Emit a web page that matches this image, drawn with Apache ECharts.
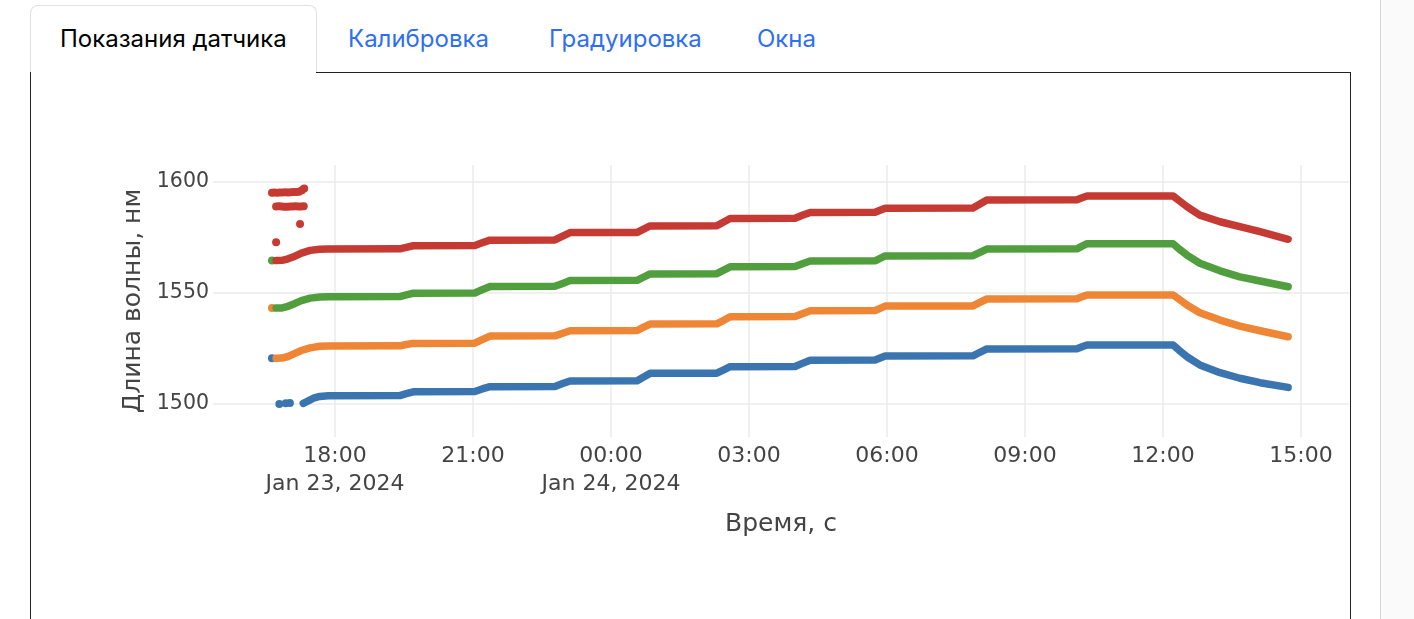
<!DOCTYPE html>
<html><head><meta charset="utf-8">
<script src="https://cdn.jsdelivr.net/npm/echarts@6/dist/echarts.min.js"></script>
<style>
html,body{margin:0;padding:0;width:1414px;height:619px;overflow:hidden;background:#fff;}
#scroll{position:absolute;left:1380px;top:0;width:34px;height:619px;background:#fafafa;border-left:1px solid #d6d6d6;}
#tab-active{position:absolute;left:30px;top:5px;width:287px;height:68px;border:1px solid #dee2e6;border-bottom:none;border-radius:8px 8px 0 0;background:#fff;box-sizing:border-box;}
.tab{position:absolute;top:22px;font-family:Inter,"Liberation Sans",sans-serif;font-size:24px;line-height:34px;white-space:nowrap;color:#2e6ff2;}
#line-top{position:absolute;left:316px;top:72px;width:1035px;height:1px;background:#222;}
#panel-left{position:absolute;left:30px;top:72px;width:1px;height:547px;background:#222;}
#panel-right{position:absolute;left:1350px;top:72px;width:1px;height:547px;background:#222;}
#chart{position:absolute;left:0;top:0;width:1414px;height:619px;}
</style>
</head><body>
<div id="scroll"></div>
<div id="tab-active"></div>
<div class="tab" style="left:60px;color:#000;">Показания датчика</div>
<div class="tab" style="left:348px;">Калибровка</div>
<div class="tab" style="left:549px;">Градуировка</div>
<div class="tab" style="left:757px;">Окна</div>
<div id="line-top"></div>
<div id="panel-left"></div>
<div id="panel-right"></div>
<div id="chart"></div>
<script>
// x values are hours since Jan 23, 2024 00:00
const tickHours = [18, 21, 24, 27, 30, 33, 36, 39];
const tickTimes = ['18:00', '21:00', '00:00', '03:00', '06:00', '09:00', '12:00', '15:00'];
const tickDates = ['Jan 23, 2024', '', 'Jan 24, 2024', '', '', '', '', ''];
const yTicks = [1500, 1550, 1600];

const blueLine = [
[17.31,1500.3],[17.42,1501.4],[17.53,1502.6],[17.67,1503.4],[17.85,1503.7],
[19.41,1503.8],[19.55,1504.7],[19.70,1505.5],
[21.04,1505.6],[21.20,1506.8],[21.37,1507.8],
[22.78,1507.9],[22.95,1509.2],[23.11,1510.4],
[24.57,1510.5],[24.71,1512.2],[24.85,1513.8],
[26.30,1513.9],[26.45,1515.4],[26.59,1516.8],
[28.00,1516.9],[28.16,1518.3],[28.33,1519.7],
[29.74,1519.8],[29.85,1520.7],[29.96,1521.6],
[31.87,1521.7],[32.02,1523.3],[32.17,1524.8],
[34.13,1524.9],[34.24,1525.8],[34.35,1526.6],
[36.22,1526.6],[36.35,1524.2],[36.52,1521.3],[36.80,1517.6],[37.24,1514.1],[37.67,1511.6],[38.11,1509.6],[38.72,1507.5]
];
const blueDots = [[16.63,1520.6],[16.79,1500.0],[16.93,1500.3],[17.02,1500.4]];

const orangeLine = [
[16.72,1520.6],[16.85,1520.7],[16.98,1521.4],[17.13,1522.8],[17.27,1524.1],[17.46,1525.3],[17.67,1526.0],[17.85,1526.1],
[19.41,1526.2],[19.55,1526.8],[19.70,1527.3],
[21.04,1527.4],[21.20,1529.0],[21.37,1530.6],
[22.78,1530.7],[22.95,1531.9],[23.11,1533.0],
[24.57,1533.1],[24.71,1534.6],[24.85,1536.0],
[26.30,1536.1],[26.45,1537.7],[26.59,1539.3],
[28.00,1539.4],[28.16,1540.7],[28.33,1542.0],
[29.74,1542.1],[29.85,1543.1],[29.96,1544.1],
[31.87,1544.2],[32.02,1545.8],[32.17,1547.3],
[34.13,1547.4],[34.24,1548.3],[34.35,1549.1],
[36.22,1549.1],[36.35,1547.2],[36.52,1544.6],[36.80,1541.1],[37.24,1537.8],[37.67,1535.1],[38.11,1533.0],[38.72,1530.3]
];
const orangeDots = [[16.63,1543.2]];

const greenLine = [
[16.72,1543.2],[16.85,1543.3],[16.98,1544.0],[17.13,1545.3],[17.27,1546.6],[17.46,1547.7],[17.67,1548.2],[17.85,1548.3],
[19.41,1548.4],[19.55,1549.2],[19.70,1549.9],
[21.04,1550.0],[21.20,1551.5],[21.37,1552.9],
[22.78,1553.0],[22.95,1554.3],[23.11,1555.6],
[24.57,1555.7],[24.71,1557.2],[24.85,1558.6],
[26.30,1558.7],[26.45,1560.3],[26.59,1561.8],
[28.00,1561.9],[28.16,1563.2],[28.33,1564.4],
[29.74,1564.5],[29.85,1565.6],[29.96,1566.7],
[31.87,1566.8],[32.02,1568.3],[32.17,1569.8],
[34.13,1569.9],[34.24,1571.1],[34.35,1572.2],
[36.22,1572.2],[36.35,1569.8],[36.52,1567.1],[36.80,1563.4],[37.24,1560.0],[37.67,1557.3],[38.11,1555.4],[38.72,1552.8]
];
const greenDots = [[16.63,1564.6]];

const redLine = [
[16.72,1564.6],[16.85,1564.7],[16.98,1565.4],[17.13,1566.6],[17.27,1568.0],[17.46,1569.2],[17.67,1569.7],[17.85,1569.8],
[19.41,1569.9],[19.55,1570.6],[19.70,1571.3],
[21.04,1571.4],[21.20,1572.6],[21.37,1573.8],
[22.78,1573.9],[22.95,1575.6],[23.11,1577.2],
[24.57,1577.3],[24.71,1578.8],[24.85,1580.2],
[26.30,1580.3],[26.45,1582.0],[26.59,1583.6],
[28.00,1583.7],[28.16,1585.0],[28.33,1586.3],
[29.74,1586.4],[29.85,1587.3],[29.96,1588.2],
[31.87,1588.3],[32.02,1590.1],[32.17,1591.9],
[34.13,1592.0],[34.24,1592.9],[34.35,1593.7],
[36.22,1593.7],[36.35,1591.6],[36.52,1588.9],[36.80,1585.1],[37.24,1582.1],[37.67,1579.9],[38.11,1577.6],[38.72,1574.2]
];
const redDots = [
[16.63,1595.2],[16.68,1595.3],[16.74,1595.2],[16.80,1595.3],[16.86,1595.3],[16.92,1595.4],[16.98,1595.3],[17.04,1595.4],[17.10,1595.5],[17.16,1595.5],[17.22,1595.6],[17.28,1596.3],[17.33,1597.1],
[16.72,1589.0],[16.78,1589.1],[16.84,1589.0],[16.90,1588.9],[16.96,1588.8],[17.02,1589.0],[17.08,1589.0],[17.14,1589.1],[17.20,1589.0],[17.26,1589.0],[17.32,1589.1],
[17.24,1581.1],[16.72,1572.9]
];

const colors = {blue:'#3b75af', orange:'#ef8636', green:'#519e3e', red:'#c53a32'};
const FONT = '"DejaVu Sans", Verdana, sans-serif';

function lineSeries(data, color) {
  return {type:'line', data:data, showSymbol:false, symbol:'none', silent:true, animation:false,
    lineStyle:{color:color, width:7.5, cap:'round', join:'round'}, itemStyle:{color:color}};
}
function dotSeries(data, color) {
  return {type:'scatter', data:data, symbolSize:8, silent:true, animation:false, itemStyle:{color:color, opacity:1}};
}

const chart = echarts.init(document.getElementById('chart'), null, {renderer:'canvas'});
chart.setOption({
  animation:false,
  textStyle:{fontFamily:FONT},
  grid:{left:213, right:65, top:165, bottom:182, containLabel:false},
  xAxis:{
    type:'value', min:15.348, max:40.043,
    axisLine:{show:false},
    axisTick:{show:false, customValues:tickHours},
    axisLabel:{customValues:tickHours, color:'#444', fontSize:22, lineHeight:28, margin:5, fontFamily:FONT,
      formatter:function(v){ const i = tickHours.indexOf(Math.round(v)); if (i<0) return ''; return tickDates[i] ? tickTimes[i] + '\n' + tickDates[i] : tickTimes[i]; }},
    splitLine:{show:true, lineStyle:{color:'#ebebeb', width:1.5}},
    name:'Время, с', nameLocation:'middle', nameGap:75,
    nameTextStyle:{fontSize:25, color:'#444', fontFamily:FONT}
  },
  yAxis:{
    type:'value', min:1485.14, max:1607.66,
    axisLine:{show:false},
    axisTick:{show:false, customValues:yTicks},
    axisLabel:{customValues:yTicks, color:'#444', fontSize:20.5, margin:4, fontFamily:FONT,
      formatter:function(v){ return String(Math.round(v)); }},
    splitLine:{show:true, lineStyle:{color:'#ebebeb', width:1.5}},
    name:'Длина волны, нм', nameLocation:'middle', nameRotate:90, nameGap:59,
    nameTextStyle:{fontSize:25, color:'#444', fontFamily:FONT}
  },
  series:[
    lineSeries(blueLine, colors.blue), dotSeries(blueDots, colors.blue),
    lineSeries(orangeLine, colors.orange), dotSeries(orangeDots, colors.orange),
    lineSeries(greenLine, colors.green), dotSeries(greenDots, colors.green),
    lineSeries(redLine, colors.red), dotSeries(redDots, colors.red)
  ]
});
</script>
</body></html>
